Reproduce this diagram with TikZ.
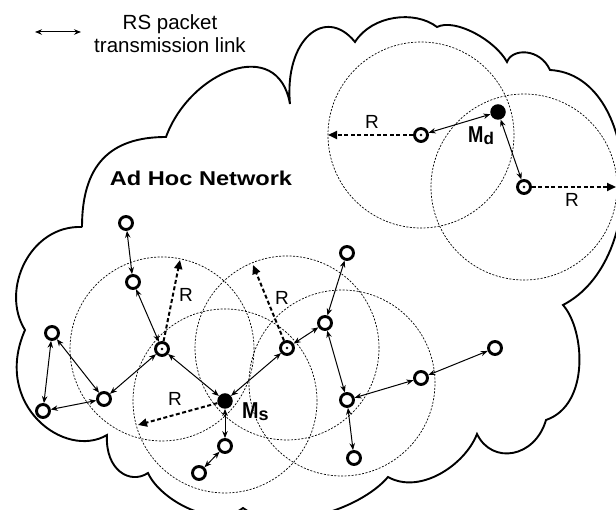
\documentclass[tikz,border=0pt]{standalone}
\usepackage{fontspec}
\setmainfont{Liberation Sans}
\usetikzlibrary{arrows.meta}
\begin{document}
\begin{tikzpicture}[x=1pt,y=1pt,
  nd/.style={circle,draw,line width=2.9pt,minimum size=13pt,inner sep=0pt,fill=white},
  snd/.style={circle,fill=black,minimum size=15.5pt,inner sep=0pt},
  link/.style={line width=1pt,{Stealth[length=7pt,width=5.5pt]}-{Stealth[length=7pt,width=5.5pt]}},
  rangecirc/.style={line width=0.7pt,dash pattern=on 2pt off 1.5pt},
  rarrow/.style={line width=2pt,dash pattern=on 4pt off 2.5pt,-{Triangle[length=9pt,width=8pt]}},
  cloudline/.style={line width=1.9pt},
  rlab/.style={font=\fontsize{19}{20}\selectfont},
  mlab/.style={anchor=base west,inner sep=0pt,font=\fontsize{23}{23}\selectfont\bfseries}
]
\useasboundingbox (0,0) rectangle (616,510);
\clip (0,0) rectangle (616,510);

% cloud outline
\draw[cloudline] (82,283) .. controls (82,345) and (110,373) .. (166,373)
  .. controls (190,439) and (278,475) .. (290,406)
  .. controls (284,470) and (325,505) .. (355,468)
  .. controls (372,495) and (415,500) .. (437,483)
  .. controls (455,492) and (495,470) .. (507,448)
  .. controls (512,462) and (540,462) .. (550,440)
  .. controls (640,435) and (650,250) .. (563,205)
  .. controls (585,180) and (590,105) .. (546,90)
  .. controls (535,52) and (492,45) .. (477,76)
  .. controls (465,45) and (420,15) .. (388,33)
  .. controls (360,0) and (280,-25) .. (243,2)
  .. controls (215,-20) and (160,10) .. (148,37)
  .. controls (130,25) and (105,40) .. (107,75)
  .. controls (65,50) and (-8,105) .. (25,180)
  .. controls (0,220) and (30,285) .. (82,283);

% legend
\coordinate (lg1) at (35,478);
\coordinate (lg2) at (81,478);
\draw[link] (lg1) -- (lg2);
\node[align=center,font=\fontsize{20.5}{23}\selectfont] (legtext) at (170,476) {RS packet\\transmission link};

% title
\node[anchor=base,inner sep=0pt,font=\fontsize{20}{20}\selectfont\bfseries] (title) at (201,324) {\scalebox{1.18}[1]{Ad Hoc Network}};

% transmission ranges
\draw[rangecirc] (421,375) circle (93);
\draw[rangecirc] (524,323) circle (93);
\draw[rangecirc] (162,161) circle (92);
\draw[rangecirc] (225,109) circle (92);
\draw[rangecirc] (287,162) circle (92);
\draw[rangecirc] (342,127) circle (93);

% nodes
\node[snd] (Md) at (498,398) {};
\node[nd] (Ln) at (421,375) {};
\node[nd] (Rn) at (524,323) {};
\node[nd] (A1) at (126,287) {};
\node[nd] (A2) at (133,228) {};
\node[nd] (B) at (162,161) {};
\node[nd] (C1) at (52,177) {};
\node[nd] (C2) at (43,99) {};
\node[nd] (C3) at (104,111) {};
\node[snd] (Ms) at (225,109) {};
\node[nd] (D1) at (225,64) {};
\node[nd] (D2) at (199,37) {};
\node[nd] (E) at (287,162) {};
\node[nd] (F1) at (347,257) {};
\node[nd] (F2) at (325,187) {};
\node[nd] (F3) at (347,110) {};
\node[nd] (F4) at (354,52) {};
\node[nd] (G1) at (421,132) {};
\node[nd] (G2) at (495,162) {};

\foreach \n in {Ln,Rn,B,E} \fill (\n.center) circle (1.4);

% links
\draw[link] (Md) -- (Ln);
\draw[link] (Md) -- (Rn);
\draw[link] (A1) -- (A2);
\draw[link] (A2) -- (B);
\draw[link] (C1) -- (C3);
\draw[link] (C1) -- (C2);
\draw[link] (C2) -- (C3);
\draw[link] (C3) -- (B);
\draw[link] (B) -- (Ms);
\draw[link] (Ms) -- (E);
\draw[link] (Ms) -- (D1);
\draw[link] (D1) -- (D2);
\draw[link] (E) -- (F2);
\draw[link] (F1) -- (F2);
\draw[link] (F2) -- (F3);
\draw[link] (F3) -- (F4);
\draw[link] (F3) -- (G1);
\draw[link] (G1) -- (G2);

% range radius arrows
\coordinate (rLn) at (328,375);
\coordinate (rRn) at (616,323);
\coordinate (rB) at (180,250);
\coordinate (rE) at (253,245);
\coordinate (rMs) at (138,85);
\draw[rarrow] (Ln) -- (rLn);
\draw[rarrow] (Rn) -- (rRn);
\draw[rarrow] (B) -- (rB);
\draw[rarrow] (E) -- (rE);
\draw[rarrow] (Ms) -- (rMs);

\node[rlab] (RLn) at (372,388) {R};
\node[rlab] (RRn) at (572,310) {R};
\node[rlab] (RB) at (186,215) {R};
\node[rlab] (RE) at (282,212) {R};
\node[rlab] (RMs) at (175,111) {R};

% labels
\node[mlab] (Mdlab) at (468,367) {\scalebox{0.8}[1]{M}\raisebox{-2pt}{\fontsize{17}{17}\selectfont d}};
\node[mlab] (Mslab) at (242,91) {\scalebox{0.86}[1]{M}\raisebox{-2pt}{\fontsize{18}{18}\selectfont s}};
\end{tikzpicture}
\end{document}
